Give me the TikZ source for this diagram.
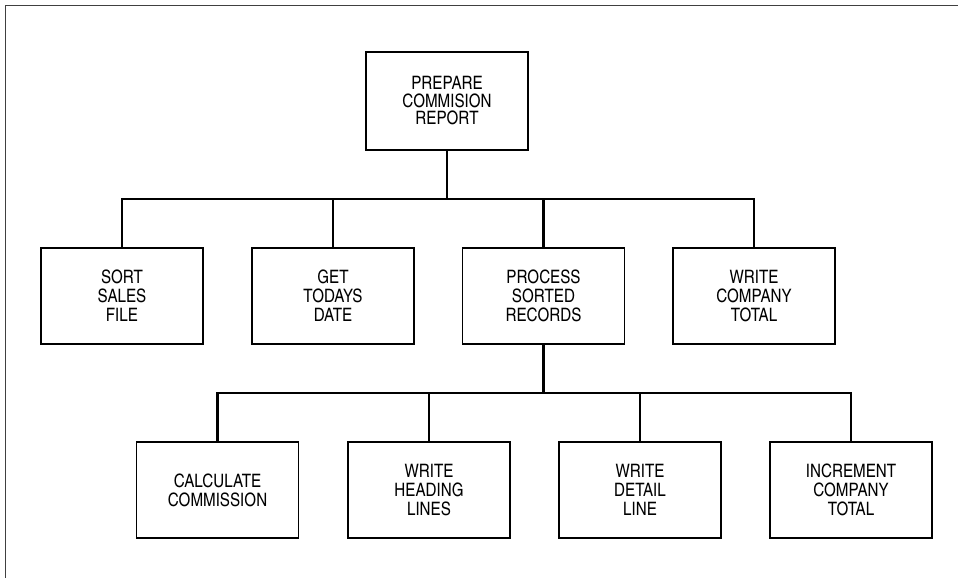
\documentclass[tikz,border=0pt]{standalone}
\usepackage{fontspec}
\setmainfont{texgyreheroscn-regular.otf}
\begin{document}
\begin{tikzpicture}[x=1pt,y=-1pt,
  box/.style={draw=black, line width=1.3pt, minimum width=162pt, minimum height=96pt,
    inner sep=0pt, align=center, font=\fontsize{18.5}{19}\selectfont},
  conn/.style={draw=black, line width=2.6pt},
  edge/.style={draw=black!75, line width=0.8pt}]
\useasboundingbox (0,0) rectangle (958,578);
% scanned page edges
\coordinate (c0) at (5,5);
\coordinate (c1) at (958,5);
\coordinate (c2) at (5,578);
\draw[edge] (c2) -- (c0) -- (c1);
% boxes
\node[box, minimum height=98pt, font=\fontsize{18.5}{17.5}\selectfont] (top) at (447,101) {PREPARE\\COMMISION\\REPORT};
\node[box] (a1) at (122,296) {SORT\\SALES\\FILE};
\node[box] (a2) at (333,296) {GET\\TODAYS\\DATE};
\node[box] (a3) at (543.5,296) {PROCESS\\SORTED\\RECORDS};
\node[box] (a4) at (754,296) {WRITE\\COMPANY\\TOTAL};
\node[box] (b1) at (217.5,490) {CALCULATE\\COMMISSION};
\node[box] (b2) at (429,490) {WRITE\\HEADING\\LINES};
\node[box] (b3) at (640,490) {WRITE\\DETAIL\\LINE};
\node[box] (b4) at (851,490) {INCREMENT\\COMPANY\\TOTAL};
% bus coordinates
\coordinate (bus1) at (447,199);
\coordinate (bus2) at (543.5,393);
% connectors level 1
\draw[conn] (top.south) -- (bus1);
\draw[conn] (a1.north) |- (a4.north |- bus1) -- (a4.north);
\draw[conn] (a2.north) -- (a2.north |- bus1);
\draw[conn] (a3.north) -- (a3.north |- bus1);
% connectors level 2
\draw[conn] (a3.south) -- (bus2);
\draw[conn] (b1.north) |- (b4.north |- bus2) -- (b4.north);
\draw[conn] (b2.north) -- (b2.north |- bus2);
\draw[conn] (b3.north) -- (b3.north |- bus2);
\end{tikzpicture}
\end{document}
